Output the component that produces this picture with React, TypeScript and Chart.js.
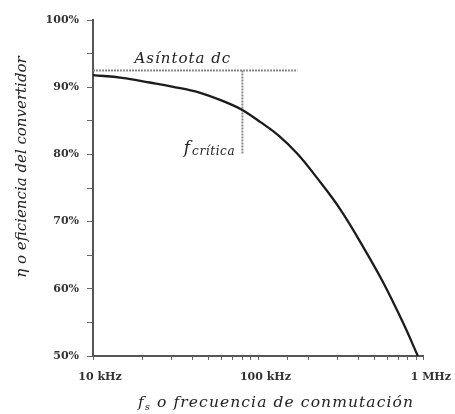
import React, { useEffect, useRef } from "react";
import { Chart, registerables } from "chart.js";

Chart.register(...registerables);

const frequencies = [10000, 15000, 22000, 30000, 44000, 66000, 80000, 103000, 131000, 172000, 226000, 311000, 433000, 569000, 750000, 920000];
const efficiency = [91.8, 91.4, 90.7, 90.1, 89.2, 87.6, 86.6, 84.8, 82.9, 80.1, 76.5, 71.9, 66.1, 60.9, 54.9, 50.0];
const asymptoteX = [10000, 172000];
const asymptoteY = [92.5, 92.5];
const criticalX = [80000, 80000];
const criticalY = [92.5, 80];
const xTickLabels: Record<number, string> = { 10000: "10 kHz", 100000: "100 kHz", 1000000: "1 MHz" };
const yTickLabels = [50, 60, 70, 80, 90, 100];

const SERIF = "'DejaVu Serif', 'Liberation Serif', serif";

const textPlugin = {
  id: "textPlugin",
  afterDraw(chart: any) {
    const { ctx, scales } = chart;
    const xs = scales.x;
    const ys = scales.y;
    ctx.save();
    ctx.fillStyle = "#222";
    ctx.textBaseline = "alphabetic";
    ctx.textAlign = "left";
    // Asíntota dc
    ctx.font = `italic 15px ${SERIF}`;
    ctx.letterSpacing = "1px";
    ctx.fillText("Asíntota dc", xs.getPixelForValue(17800), ys.getPixelForValue(93.6));
    // f crítica
    const fx = xs.getPixelForValue(35400);
    const fy = ys.getPixelForValue(80.2);
    ctx.letterSpacing = "0px";
    ctx.font = `italic 17px ${SERIF}`;
    ctx.fillText("f", fx, fy);
    const fw = ctx.measureText("f").width;
    ctx.font = `italic 12px ${SERIF}`;
    ctx.letterSpacing = "0.6px";
    ctx.fillText("crítica", fx + fw + 2, fy + 2);
    // x title
    const rest = " o frecuencia de conmutación";
    ctx.letterSpacing = "1.1px";
    ctx.font = `italic 15.5px ${SERIF}`;
    const w1 = ctx.measureText("f").width;
    const w3 = ctx.measureText(rest).width;
    ctx.font = `italic 10px ${SERIF}`;
    const w2 = ctx.measureText("s").width;
    const total = w1 + w2 + w3;
    let tx = 276 - total / 2;
    const ty = 407;
    ctx.font = `italic 15.5px ${SERIF}`;
    ctx.fillText("f", tx, ty);
    tx += w1;
    ctx.font = `italic 10px ${SERIF}`;
    ctx.fillText("s", tx, ty + 3);
    tx += w2;
    ctx.font = `italic 15.5px ${SERIF}`;
    ctx.fillText(rest, tx, ty);
    // y title
    ctx.letterSpacing = "0px";
    ctx.translate(22, 167);
    ctx.rotate(-Math.PI / 2);
    ctx.textAlign = "center";
    ctx.textBaseline = "middle";
    ctx.font = `italic 15px ${SERIF}`;
    ctx.fillText("η o eficiencia del convertidor", 0, 0);
    ctx.restore();
  },
};

export default function App() {
  const ref = useRef<HTMLCanvasElement | null>(null);
  useEffect(() => {
    if (!ref.current) return;
    const chart = new Chart(ref.current, {
      type: "line",
      data: {
        datasets: [
          {
            data: frequencies.map((f, i) => ({ x: f, y: efficiency[i] })),
            borderColor: "#1c1c1c",
            borderWidth: 2.3,
            pointRadius: 0,
            tension: 0.4,
          },
          {
            data: asymptoteX.map((f, i) => ({ x: f, y: asymptoteY[i] })),
            borderColor: "#8a8a8a",
            borderWidth: 2,
            borderDash: [2, 1],
            pointRadius: 0,
          },
          {
            data: criticalX.map((f, i) => ({ x: f, y: criticalY[i] })),
            borderColor: "#8a8a8a",
            borderWidth: 2,
            borderDash: [2, 1],
            pointRadius: 0,
          },
        ],
      },
      options: {
        animation: false,
        responsive: false,
        layout: { padding: { top: 20, right: 27, left: 0, bottom: 0 } },
        plugins: { legend: { display: false }, tooltip: { enabled: false } },
        scales: {
          x: {
            type: "logarithmic",
            min: 10000,
            max: 1000000,
            afterFit: (s: any) => { s.height = 58; },
            grid: { drawOnChartArea: false, tickLength: 4, color: "#666" },
            border: { display: true, color: "#555", width: 2 },
            ticks: {
              autoSkip: false,
              maxRotation: 0,
              padding: 11,
              labelOffset: 7,
              color: "#333",
              font: { family: SERIF, size: 11, weight: "bold" },
              callback: (v: any) => xTickLabels[Number(v)] ?? "",
            },
          },
          y: {
            min: 50,
            max: 100,
            afterFit: (s: any) => { s.width = 93; },
            afterBuildTicks: (s: any) => {
              const t = [];
              for (let v = 50; v <= 100; v += 5) t.push({ value: v });
              s.ticks = t;
            },
            grid: { drawOnChartArea: false, tickLength: 6, color: "#666" },
            border: { display: true, color: "#555", width: 2 },
            ticks: {
              padding: 8,
              color: "#333",
              font: { family: SERIF, size: 11, weight: "bold" },
              callback: (v: any) => (yTickLabels.includes(Number(v)) ? `${v}%` : ""),
            },
          },
        },
      },
      plugins: [textPlugin],
    } as any);
    return () => chart.destroy();
  }, []);
  return (
    <div style={{ position: "fixed", left: 0, top: 0, width: 455, height: 414, background: "#fff" }}>
      <canvas ref={ref} width={455} height={414} style={{ display: "block" }} />
    </div>
  );
}
